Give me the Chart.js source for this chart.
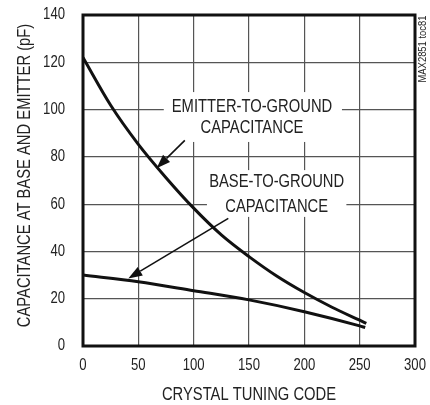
<!DOCTYPE html>
<html><head><meta charset="utf-8">
<script src="https://cdn.jsdelivr.net/npm/chart.js@4/dist/chart.umd.min.js"></script>
<style>html,body{margin:0;padding:0;background:#fff}#wrap{width:430px;height:405px}</style>
</head><body><div id="wrap"><canvas id="c" width="430" height="405"></canvas></div>
<script>
// ---- data ----
const xTicks = [0, 50, 100, 150, 200, 250, 300];
const yTicks = [0, 20, 40, 60, 80, 100, 120, 140];
const emitterCodes = [0, 25, 50, 75, 100, 125, 150, 175, 200, 225, 250, 256];
const emitterCap   = [122, 101.8, 85.3, 71.2, 58.3, 47, 37.8, 29.6, 22.6, 16.4, 10.9, 9.6];
const baseCodes = [0, 50, 100, 150, 200, 250, 255];
const baseCap   = [30, 27.2, 23.4, 19.5, 14.5, 8.5, 7.8];
const xTitle = 'CRYSTAL TUNING CODE';
const yTitle = 'CAPACITANCE AT BASE AND EMITTER (pF)';
const noteText = 'MAX2851 toc81';
const emitterLabel = ['EMITTER-TO-GROUND', 'CAPACITANCE'];
const baseLabel = ['BASE-TO-GROUND', 'CAPACITANCE'];
// label anchors / boxes / arrows in data units
const emitterLabelPos = {x: 152.7, y: [101.1, 92.2], box: [73, 234, 86.3, 107.4]};
const baseLabelPos = {x: 175, y: [69.3, 58.6], box: [112, 238, 54.6, 74.4]};
const emitterArrow = [92, 87, 66.5, 75.2];
const baseArrow = [131.3, 54, 40.9, 28.6];

const FONT = "'Liberation Sans', Arial, sans-serif";
const TXT = '#222';
const SX = 0.82; // horizontal condensing of the text

function condText(ctx, text, x, y, size, align, rot) {
  ctx.save();
  ctx.font = size + 'px ' + FONT;
  ctx.textAlign = align;
  ctx.textBaseline = 'middle';
  ctx.translate(x, y);
  if (rot) ctx.rotate(rot);
  ctx.scale(SX, 1);
  ctx.fillText(text, 0, 0);
  ctx.restore();
}

const annot = {
  id: 'annot',
  beforeDatasetsDraw(chart) {
    const {ctx, scales: {x, y}} = chart;
    ctx.save();
    ctx.fillStyle = '#fff';
    for (const L of [emitterLabelPos, baseLabelPos]) {
      const [x0, x1, y0, y1] = L.box;
      const px0 = x.getPixelForValue(x0), px1 = x.getPixelForValue(x1);
      const py0 = y.getPixelForValue(y1), py1 = y.getPixelForValue(y0);
      ctx.fillRect(px0, py0, px1 - px0, py1 - py0);
    }
    ctx.fillStyle = TXT;
    [[emitterLabel, emitterLabelPos], [baseLabel, baseLabelPos]].forEach(([txt, L]) => {
      txt.forEach((t, i) => condText(ctx, t, x.getPixelForValue(L.x), y.getPixelForValue(L.y[i]), 18, 'center'));
    });
    ctx.restore();
  },
  afterDatasetsDraw(chart) {
    const {ctx, scales: {x, y}, chartArea: a} = chart;
    ctx.save();
    // arrows
    ctx.strokeStyle = '#111';
    ctx.fillStyle = '#111';
    ctx.lineWidth = 1.6;
    for (const A of [emitterArrow, baseArrow]) {
      const sx = x.getPixelForValue(A[0]), sy = y.getPixelForValue(A[1]);
      const tx = x.getPixelForValue(A[2]), ty = y.getPixelForValue(A[3]);
      const ang = Math.atan2(ty - sy, tx - sx);
      const len = 14, w = 5;
      const bx = tx - len * Math.cos(ang), by = ty - len * Math.sin(ang);
      ctx.beginPath(); ctx.moveTo(sx, sy); ctx.lineTo(bx, by); ctx.stroke();
      ctx.beginPath();
      ctx.moveTo(tx, ty);
      ctx.lineTo(bx + w * Math.sin(ang), by - w * Math.cos(ang));
      ctx.lineTo(bx - w * Math.sin(ang), by + w * Math.cos(ang));
      ctx.closePath(); ctx.fill();
    }
    // frame
    ctx.strokeStyle = '#111';
    ctx.lineWidth = 3;
    ctx.strokeRect(a.left, a.top, a.right - a.left, a.bottom - a.top);
    // tick labels and titles (condensed text)
    ctx.fillStyle = TXT;
    x.ticks.forEach(t => condText(ctx, String(t.value), x.getPixelForValue(t.value), a.bottom + 20, 16, 'center'));
    y.ticks.forEach(t => condText(ctx, String(t.value), a.left - 18, y.getPixelForValue(t.value), 16, 'right'));
    condText(ctx, xTitle, (a.left + a.right) / 2, a.bottom + 49, 18, 'center');
    condText(ctx, yTitle, 25, (a.top + a.bottom) / 2 - 5, 18, 'center', -Math.PI / 2);
    condText(ctx, noteText, 423, 49, 11.5, 'center', -Math.PI / 2);
    ctx.restore();
  }
};

new Chart(document.getElementById('c'), {
  type: 'line',
  data: {
    datasets: [
      {label: 'Emitter-to-ground', data: emitterCodes.map((c, i) => ({x: c, y: emitterCap[i]})),
       borderColor: '#111', borderWidth: 3, pointRadius: 0, cubicInterpolationMode: 'monotone', fill: false},
      {label: 'Base-to-ground', data: baseCodes.map((c, i) => ({x: c, y: baseCap[i]})),
       borderColor: '#111', borderWidth: 3, pointRadius: 0, cubicInterpolationMode: 'monotone', fill: false}
    ]
  },
  options: {
    responsive: false,
    animation: false,
    devicePixelRatio: 1,
    layout: {padding: {top: 15, right: 15, left: 0, bottom: 0}},
    plugins: {legend: {display: false}, tooltip: {enabled: false}},
    scales: {
      x: {
        type: 'linear', min: 0, max: 300,
        afterBuildTicks: s => { s.ticks = xTicks.map(v => ({value: v})); },
        afterFit: s => { s.height = 59; },
        grid: {color: '#555', lineWidth: 1.2, drawTicks: false},
        border: {display: false},
        ticks: {display: false},
        title: {display: false, text: xTitle}
      },
      y: {
        type: 'linear', min: 0, max: 140,
        afterBuildTicks: s => { s.ticks = yTicks.map(v => ({value: v})); },
        afterFit: s => { s.width = 83; },
        grid: {color: '#555', lineWidth: 1.2, drawTicks: false},
        border: {display: false},
        ticks: {display: false},
        title: {display: false, text: yTitle}
      }
    }
  },
  plugins: [annot]
});
</script>
</body></html>
